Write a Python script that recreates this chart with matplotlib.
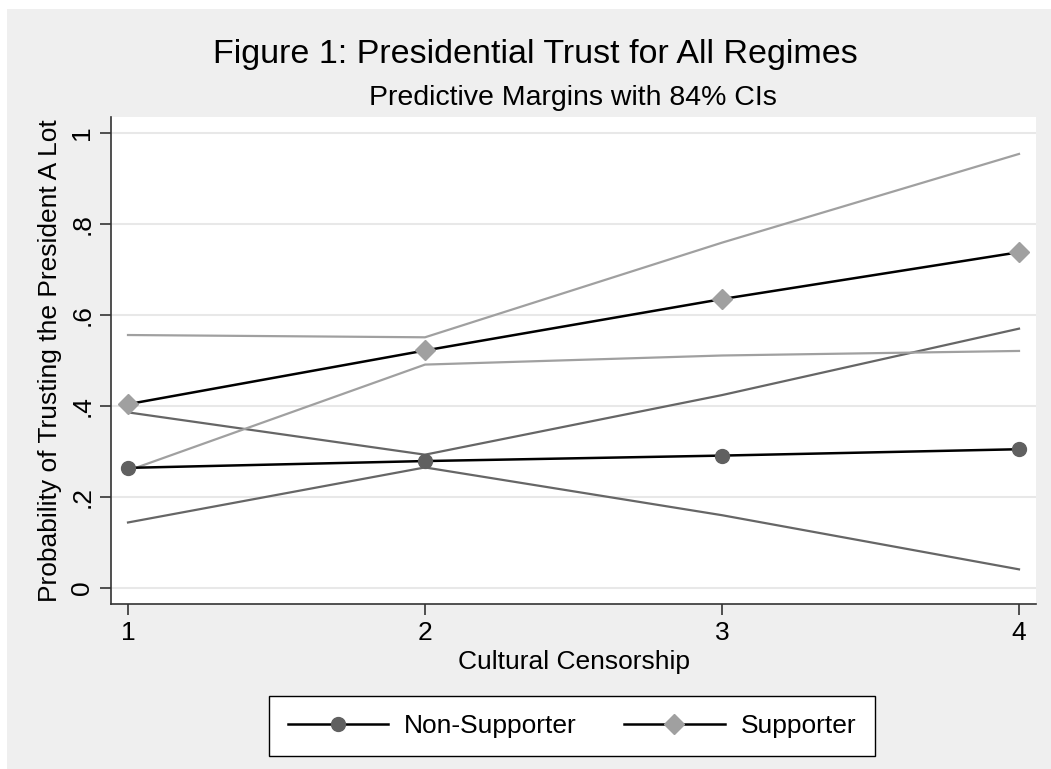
import matplotlib
matplotlib.use("Agg")
from matplotlib import pyplot as plt
from matplotlib.patches import Rectangle
from matplotlib.lines import Line2D

plt.rcParams['font.family'] = ['Liberation Sans', 'DejaVu Sans']

censorship = [1, 2, 3, 4]

# predictive margins and 84% CI bounds
non_supporter = [0.264, 0.279, 0.291, 0.305]
non_supporter_hi = [0.386, 0.293, 0.424, 0.570]
non_supporter_lo = [0.144, 0.265, 0.160, 0.041]

supporter = [0.404, 0.522, 0.635, 0.738]
supporter_hi = [0.556, 0.551, 0.759, 0.954]
supporter_lo = [0.258, 0.491, 0.511, 0.521]

y_ticks = [0, 0.2, 0.4, 0.6, 0.8, 1.0]
y_ticklabels = ['0', '.2', '.4', '.6', '.8', '1']

W, H = 1051, 769
fig = plt.figure(figsize=(W / 100, H / 100), dpi=100, facecolor='white')
fig.patches.append(Rectangle((7 / W, 0), 1, 1 - 9 / H, transform=fig.transFigure,
                             facecolor='#efefef', edgecolor='none', zorder=-10))

ax = fig.add_axes([111 / W, 1 - 604 / H, 925 / W, 487 / H])
ax.set_facecolor('white')

dark = '#606060'
light = '#a0a0a0'

ax.plot(censorship, non_supporter_hi, color='#666666', lw=1.6, zorder=2)
ax.plot(censorship, non_supporter_lo, color='#666666', lw=1.6, zorder=2)
ax.plot(censorship, supporter_hi, color=light, lw=1.6, zorder=2)
ax.plot(censorship, supporter_lo, color=light, lw=1.6, zorder=2)

ax.plot(censorship, non_supporter, color='black', lw=1.8, marker='o', ms=10,
        mfc=dark, mec=dark, zorder=3)
ax.plot(censorship, supporter, color='black', lw=1.8, marker='D', ms=10.5,
        mfc=light, mec=light, zorder=3)

ax.set_xlim(1 - 17 / 297, 4 + 17 / 297)
ax.set_ylim(-16 / 455, 1 + 16 / 455)
ax.set_xticks(censorship)
ax.set_xticklabels([str(c) for c in censorship])
ax.set_yticks(y_ticks)
ax.set_yticklabels(y_ticklabels, rotation=90, va='center')
ax.yaxis.grid(True, color='#e8e8e8', lw=1.5)
ax.set_axisbelow(True)

for side in ['top', 'right']:
    ax.spines[side].set_visible(False)
for side in ['left', 'bottom']:
    ax.spines[side].set_color('#333333')
    ax.spines[side].set_linewidth(1.2)
ax.tick_params(axis='both', direction='out', length=8, width=1.2, color='#333333',
               labelsize=19, pad=4)

ax.set_xlabel('Cultural Censorship', fontsize=19, labelpad=4)
ax.set_ylabel('Probability of Trusting the President A Lot', fontsize=19, labelpad=6)

fig.text(535 / W, 1 - 55 / H, 'Figure 1: Presidential Trust for All Regimes',
         fontsize=24.5, ha='center', va='center')
fig.text(573 / W, 1 - 98 / H, 'Predictive Margins with 84% CIs',
         fontsize=20.5, ha='center', va='center')

handles = [
    Line2D([], [], color='black', lw=1.8, marker='o', ms=10, mfc=dark, mec=dark),
    Line2D([], [], color='black', lw=1.8, marker='D', ms=10.5, mfc=light, mec=light),
]
leg = fig.legend(handles, ['Non-Supporter', 'Supporter'], ncol=2, loc='center',
                 bbox_to_anchor=(572 / W, 1 - 726 / H), fontsize=19,
                 frameon=True, fancybox=False, edgecolor='black', facecolor='white',
                 framealpha=1, handlelength=3.8, columnspacing=1.8, borderpad=0.7,
                 handletextpad=0.6, borderaxespad=0)
leg.get_frame().set_linewidth(1.0)

fig.savefig('out.png', dpi=100, facecolor=fig.get_facecolor())
